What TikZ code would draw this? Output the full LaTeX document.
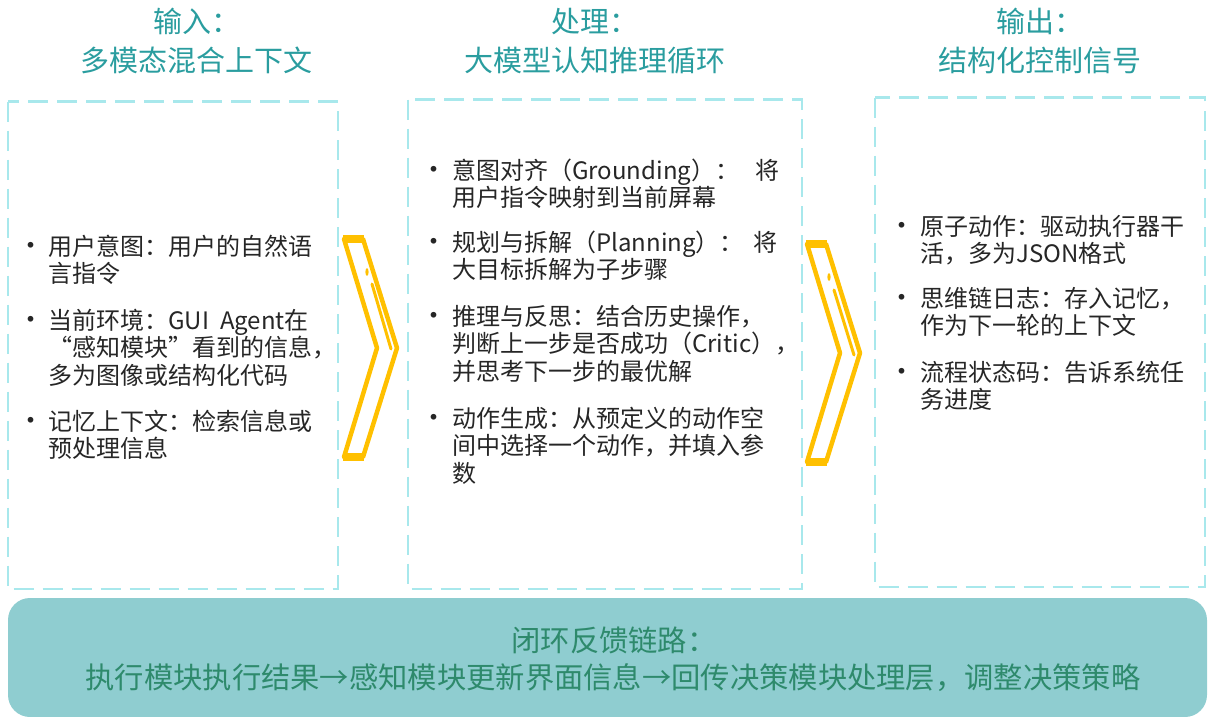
\documentclass[tikz,border=0pt]{standalone}
\usepackage{fontspec}
\setmainfont{Noto Sans CJK SC}
\definecolor{boxcyan}{HTML}{A8E8EC}
\definecolor{titleteal}{HTML}{2A9D9F}
\definecolor{barfill}{HTML}{8FCDD0}
\definecolor{bartext}{HTML}{2E8A6C}
\definecolor{bodygray}{HTML}{262626}
\definecolor{chevyellow}{HTML}{FFC000}
\begin{document}
\begin{tikzpicture}[x=1pt,y=-1pt,
  dbox/.style={draw=boxcyan, line width=2.8pt, dash pattern=on 20pt off 9pt},
  title/.style={text=titleteal, font=\fontsize{29}{38}\selectfont, align=center, inner sep=0pt, anchor=base},
  item/.style={anchor=base west, align=left, text=bodygray, font=\fontsize{24}{27.6}\selectfont, inner sep=0pt},
  bul/.style={anchor=base, text=bodygray, font=\fontsize{27}{27.6}\selectfont, inner sep=0pt},
  chev/.style={draw=chevyellow, line width=4.5pt, line join=round},
  chevbar/.style={draw=chevyellow, line width=8pt},
  chevhl/.style={draw=chevyellow, line width=3pt, line cap=round},
  bartxt/.style={text=bartext, font=\fontsize{29.3}{37}\selectfont, inner sep=0pt, anchor=base}]
\useasboundingbox (0,0) rectangle (1208,717);

% titles
\node[title] (t1a) at (196.5,33) {输入：};
\node[title] (t1b) at (196.5,71) {多模态混合上下文};
\node[title] (t2a) at (595,33) {处理：};
\node[title] (t2b) at (595,71) {大模型认知推理循环};
\node[title] (t3a) at (1040,33) {输出：};
\node[title] (t3b) at (1040,71) {结构化控制信号};

% dashed boxes
\draw[dbox] (8,101.5) rectangle (338,589) coordinate (b1);
\draw[dbox] (408,99.5) rectangle (802,589) coordinate (b2);
\draw[dbox] (875,97.5) rectangle (1205,587) coordinate (b3);

% box 1 items (node base = baseline of last line)
\node[bul] (u11) at (31,255) {•};
\node[item] (i11) at (48,282.6) {用户意图：用户的自然语\\言指令};
\node[bul] (u12) at (31,329) {•};
\node[item] (i12) at (48,384.2) {当前环境：GUI\hspace{11pt}Agent在\\“感知模块”看到的信息，\\多为图像或结构化代码};
\node[bul] (u13) at (31,430) {•};
\node[item] (i13) at (48,457.6) {记忆上下文：检索信息或\\预处理信息};

% box 2 items
\node[bul] (u21) at (434,179) {•};
\node[item] (i21) at (452,206.6) {意图对齐（Grounding）：\hspace{16pt}将\\用户指令映射到当前屏幕};
\node[bul] (u22) at (434,251) {•};
\node[item] (i22) at (452,278.6) {规划与拆解（Planning）：\hspace{10pt}将\\大目标拆解为子步骤};
\node[bul] (u23) at (434,325) {•};
\node[item] (i23) at (452,380.2) {推理与反思：结合历史操作，\\判断上一步是否成功（Critic），\\并思考下一步的最优解};
\node[bul] (u24) at (434,427) {•};
\node[item] (i24) at (452,482.2) {动作生成：从预定义的动作空\\间中选择一个动作，并填入参\\数};

% box 3 items
\node[bul] (u31) at (902,235) {•};
\node[item] (i31) at (920,262.6) {原子动作：驱动执行器干\\活，多为JSON格式};
\node[bul] (u32) at (902,307) {•};
\node[item] (i32) at (920,334.6) {思维链日志：存入记忆，\\作为下一轮的上下文};
\node[bul] (u33) at (902,381) {•};
\node[item] (i33) at (920,408.6) {流程状态码：告诉系统任\\务进度};

% chevron 1
\draw[chev] (344,239) -- (363,239) -- (397,348) -- (363,457) -- (344,457) -- (377,348) -- cycle;
\draw[chevbar] (343,239) -- (364,239);
\draw[chevbar] (343,457) -- (364,457);
\fill[chevyellow] (367,272) ellipse (1.6 and 4);
\draw[chevhl] (372,284) -- (391,349);

% chevron 2
\draw[chev] (807,244) -- (826,244) -- (860,353) -- (826,462) -- (807,462) -- (840,353) -- cycle;
\draw[chevbar] (806,244) -- (827,244);
\draw[chevbar] (806,462) -- (827,462);
\fill[chevyellow] (829,277) ellipse (1.6 and 4);
\draw[chevhl] (834,290) -- (854,355);

% bottom bar
\fill[barfill, rounded corners=22pt] (8,598) rectangle (1207,717);
\node[bartxt] (f1) at (614,651) {闭环反馈链路：};
\node[bartxt] (f2) at (613,688) {执行模块执行结果→感知模块更新界面信息→回传决策模块处理层，调整决策策略};
\end{tikzpicture}
\end{document}
